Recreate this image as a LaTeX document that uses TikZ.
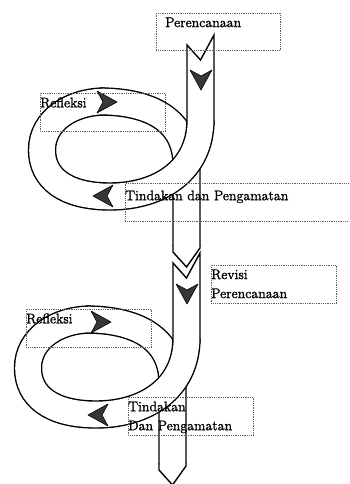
\documentclass[tikz,border=0pt]{standalone}
\usepackage{fontspec}
\usepackage{tikz}
\usetikzlibrary{positioning}
\newfontfamily\lblfont{Latin Modern Roman}[FakeBold=1.5]
\definecolor{headcolor}{RGB}{55,55,55}
\definecolor{boxcolor}{RGB}{95,95,95}

\begin{document}
\begin{tikzpicture}[x=1pt, y=-1pt,
    band/.style={line width=1.4pt, double=white, double distance=25.6pt},
    bandend/.style={fill=white, draw=black, line width=1.4pt, line join=miter},
    patch/.style={draw=white, line width=23pt},
    chev/.style={fill=headcolor, draw=black, line width=0.6pt, line join=round},
    lblbox/.style={draw=boxcolor, densely dotted, line width=0.8pt,
       minimum width=125pt, minimum height=38pt, anchor=north west, inner sep=0pt},
    lbl/.style={font=\lblfont\fontsize{14}{19}\selectfont, align=left, anchor=north west,
       inner xsep=0pt, inner ysep=4.3pt}
  ]
    \useasboundingbox (0,0) rectangle (349,484);
    \clip (0,0) rectangle (349,484);

    % Two turns of the cycle, the second one shifted down and left
    \foreach \dx/\dy in {0/0, -14/218} {
      \begin{scope}[shift={(\dx,\dy)}]
        % back strand: top of the loop turning down into the shaft
        \draw[band] (100,101.5) .. controls (150,101.5) and (186.5,120) .. (186.5,165) -- (186.5,246);
        \filldraw[bandend] (173,245) -- (173,252) -- (186.5,267) -- (200,248) -- (200,245);
        % front strand: down from the notched tail, round the loop
        \draw[band] (200.5,120) .. controls (200.5,170) and (160,196.5) .. (110,196.5)
          .. controls (65,196.5) and (42,178) .. (42,150)
          .. controls (42,120) and (72,101.5) .. (105,101.5);
        \filldraw[bandend] (187,125) -- (187,45) -- (200.5,60) -- (214,35) -- (214,125);
        \draw[patch] (102,101.5) -- (108,101.5);
      \end{scope}
    }

    % Direction heads on the bands
    \foreach \x/\y/\a in {201/80/-90, 107/102/0, 103/196/180, 187/294/-90, 101/322/0, 98/415/180}
      \filldraw[chev, shift={(\x,\y)}, rotate=\a] (-10,-11) -- (10,0) -- (-10,11) -- (-4,0) -- cycle;

    % Label boxes
    \node[lblbox, minimum width=124pt, minimum height=37pt] (planBox) at (156,13) {};
    \node[lbl, xshift=9pt] (planTxt) at (planBox.north west) {Perencanaan};
    \node[lblbox] (refl1Box) at (40,93) {};
    \node[lbl] (refl1Txt) at (refl1Box.north west) {Refleksi};
    \node[lblbox, minimum width=250pt] (act1Box) at (125,183) {};
    \node[lbl, yshift=-3pt] (act1Txt) at (act1Box.north west) {Tindakan dan Pengamatan};
    \node[lblbox] (revBox) at (211,265) {};
    \node[lbl] (revTxt) at (revBox.north west) {Revisi\\Perencanaan};
    \node[lblbox] (refl2Box) at (26,309) {};
    \node[lbl] (refl2Txt) at (refl2Box.north west) {Refleksi};
    \node[lblbox] (act2Box) at (128,397) {};
    \node[lbl] (act2Txt) at (act2Box.north west) {Tindakan\\Dan Pengamatan};
\end{tikzpicture}
\end{document}
